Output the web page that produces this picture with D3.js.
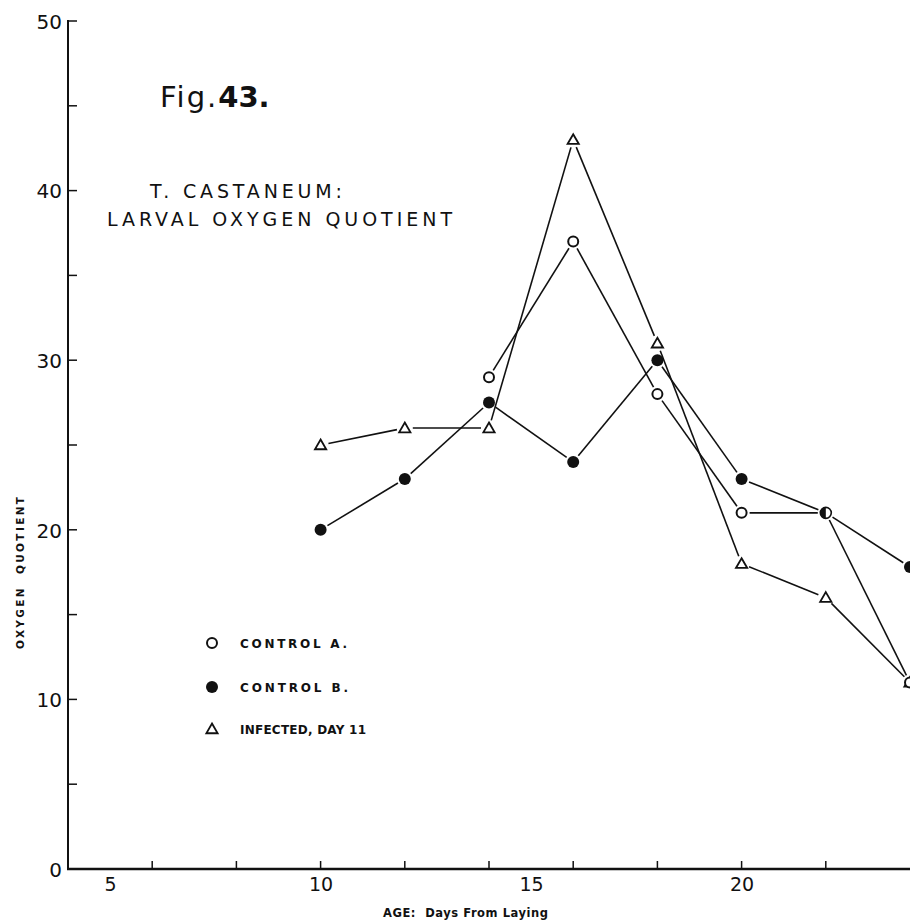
<!DOCTYPE html>
<html>
<head>
<meta charset="utf-8">
<script src="https://cdn.jsdelivr.net/npm/d3@7"></script>
<style>
  body { margin: 0; background: #fff; }
  svg text { font-family: "DejaVu Sans", sans-serif; fill: #111; }
</style>
</head>
<body>
<div class="graph"></div>
<script>
// datos
const days = [10, 12, 14, 16, 18, 20, 22, 24]
const controlA = [null, null, 29, 37, 28, 21, 21, 11]
const controlB = [20, 23, 27.5, 24, 30, 23, 21, 17.8]
const infected = [25, 26, 26, 43, 31, 18, 16, 11]

const yTicks = [0, 10, 20, 30, 40, 50]
const yMinor = [5, 15, 25, 35, 45]
const xLabels = [5, 10, 15, 20]
const xTicks = [6, 8, 10, 12, 14, 16, 18, 20, 22]

const legendItems = ['CONTROL A.', 'CONTROL B.', 'INFECTED, DAY 11']

// tamaño del SVG
let width = 910, height = 923

const svg = d3.select('.graph')
  .append('svg')
  .attr('width', width)
  .attr('height', height)

// escalas
const xScale = d3.scaleLinear().domain([4, 24]).range([68, 910])
const yScale = d3.scaleLinear().domain([0, 50]).range([869, 21])

const ink = '#111'

// Ejes
const yAxis = d3.axisLeft(yScale)
  .tickValues(yTicks)
  .tickSize(0)
  .tickPadding(6)
  .tickFormat(d3.format('d'))

const gy = svg.append('g')
  .attr('id', 'y-axis')
  .attr('transform', `translate(${xScale(4)},0)`)
  .call(yAxis)
gy.select('.domain').attr('stroke', ink).attr('stroke-width', 2).attr('d', `M0,${yScale(50) - 1}V${yScale(0) + 1}`)
gy.selectAll('text').style('font-size', '20px').attr('dy', '0.36em')

// marcas hacia adentro en el eje y
svg.append('g').selectAll('line')
  .data(yTicks.concat(yMinor).filter(d => d > 0))
  .enter().append('line')
  .attr('x1', xScale(4)).attr('x2', xScale(4) + 9)
  .attr('y1', d => yScale(d)).attr('y2', d => yScale(d))
  .attr('stroke', ink).attr('stroke-width', 1.5)

const xAxis = d3.axisBottom(xScale)
  .tickValues(xLabels)
  .tickSize(0)
  .tickPadding(9)
  .tickFormat(d3.format('d'))

const gx = svg.append('g')
  .attr('id', 'x-axis')
  .attr('transform', `translate(0,${yScale(0)})`)
  .call(xAxis)
gx.select('.domain').attr('stroke', ink).attr('stroke-width', 2.5).attr('d', `M${xScale(4) - 1},0H${width}`)
gx.selectAll('text').style('font-size', '19px')

svg.append('g').selectAll('line')
  .data(xTicks)
  .enter().append('line')
  .attr('x1', d => xScale(d)).attr('x2', d => xScale(d))
  .attr('y1', yScale(0)).attr('y2', yScale(0) - 8)
  .attr('stroke', ink).attr('stroke-width', 1.5)

// titulos
const fig = svg.append('text').attr('x', 160).attr('y', 107).style('font-size', '29px')
fig.append('tspan').text('Fig.').style('font-weight', 'normal').attr('letter-spacing', 2)
fig.append('tspan').text('43.').style('font-weight', 'bold')

svg.append('text').text('T. CASTANEUM:')
  .attr('x', 150).attr('y', 198)
  .attr('textLength', 192).attr('lengthAdjust', 'spacing')
  .style('font-size', '19px')

svg.append('text').text('LARVAL OXYGEN QUOTIENT')
  .attr('x', 107).attr('y', 226)
  .attr('textLength', 345).attr('lengthAdjust', 'spacing')
  .style('font-size', '19px')

svg.append('text').text('OXYGEN  QUOTIENT')
  .attr('transform', 'translate(24,573) rotate(-90)')
  .attr('text-anchor', 'middle')
  .attr('textLength', 152).attr('lengthAdjust', 'spacing')
  .style('white-space', 'pre')
  .style('font-size', '10.5px').style('font-weight', 'bold')

svg.append('text').text('AGE:  Days From Laying')
  .attr('x', 383).attr('y', 917)
  .attr('textLength', 165).attr('lengthAdjust', 'spacing')
  .style('white-space', 'pre')
  .style('font-size', '11.5px').style('font-weight', 'bold')

// lineas con huecos cerca de los marcadores
const gap = 8
function drawSeries(values) {
  const pts = days.map((d, i) => [d, values[i]]).filter(p => p[1] !== null)
    .map(p => [xScale(p[0]), yScale(p[1])])
  const segs = d3.pairs(pts).map(([a, b]) => {
    const dx = b[0] - a[0], dy = b[1] - a[1], len = Math.hypot(dx, dy)
    const ux = dx / len, uy = dy / len
    return [a[0] + ux * gap, a[1] + uy * gap, b[0] - ux * gap, b[1] - uy * gap]
  })
  svg.append('g').selectAll('line')
    .data(segs).enter().append('line')
    .attr('x1', s => s[0]).attr('y1', s => s[1])
    .attr('x2', s => s[2]).attr('y2', s => s[3])
    .attr('stroke', ink).attr('stroke-width', 1.6)
}
drawSeries(controlA)
drawSeries(controlB)
drawSeries(infected)

const tri = d3.symbol().type(d3.symbolTriangle).size(55)

function openCircle(g, x, y) {
  g.append('circle').attr('cx', x).attr('cy', y).attr('r', 5)
    .attr('fill', '#fff').attr('stroke', ink).attr('stroke-width', 2)
}
function fullCircle(g, x, y) {
  g.append('circle').attr('cx', x).attr('cy', y).attr('r', 6).attr('fill', ink)
}
function triangle(g, x, y) {
  g.append('path').attr('d', tri).attr('transform', `translate(${x},${y + 1})`)
    .attr('fill', '#fff').attr('stroke', ink).attr('stroke-width', 1.8)
}

// marcadores
const marks = svg.append('g')
days.forEach((d, i) => {
  const x = xScale(d)
  if (infected[i] !== null) triangle(marks, x, yScale(infected[i]))
  const same = controlA[i] !== null && controlA[i] === controlB[i]
  if (same) {
    // punto compartido: circulo mitad lleno
    const y = yScale(controlA[i])
    marks.append('circle').attr('cx', x).attr('cy', y).attr('r', 5.5)
      .attr('fill', '#fff').attr('stroke', ink).attr('stroke-width', 1.6)
    marks.append('path')
      .attr('d', d3.arc()({ innerRadius: 0, outerRadius: 5.5, startAngle: Math.PI, endAngle: 2 * Math.PI }))
      .attr('transform', `translate(${x},${y})`).attr('fill', ink)
  } else {
    if (controlA[i] !== null) openCircle(marks, x, yScale(controlA[i]))
    if (controlB[i] !== null) fullCircle(marks, x, yScale(controlB[i]))
  }
})

// leyenda
const legendY = [643, 687, 729]
const legendW = [107, 108, 126]
const legend = svg.append('g')
openCircle(legend, 212, legendY[0])
fullCircle(legend, 212, legendY[1])
triangle(legend, 212, legendY[2])
legend.selectAll('text')
  .data(legendItems).enter().append('text')
  .text(d => d)
  .attr('x', 240).attr('y', (d, i) => legendY[i] + 4.5)
  .attr('textLength', (d, i) => legendW[i]).attr('lengthAdjust', 'spacing')
  .style('font-size', '12px').style('font-weight', 'bold')
</script>
</body>
</html>
